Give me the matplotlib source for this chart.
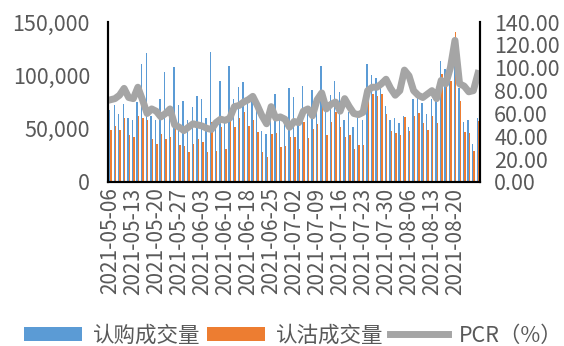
import numpy as np
import matplotlib.pyplot as plt
from matplotlib.ticker import FuncFormatter

plt.rcParams['font.family'] = ['Noto Sans CJK SC', 'DejaVu Sans']

# 认购 / 认沽 成交量（张）与 PCR（%），2021-05-06 ~ 2021-08-27 每个交易日
call_vol = [68, 72, 64, 73, 60, 58, 75, 111, 121, 62,
            58, 78, 103, 63, 108, 72, 76, 58, 70, 81,
            78, 60, 122, 55, 95, 57, 109, 78, 89, 94,
            74, 78, 70, 48, 45, 68, 83, 58, 62, 88,
            80, 60, 90, 64, 86, 75, 109, 68, 82, 95,
            84, 58, 66, 52, 60, 58, 111, 100, 98, 96,
            71, 58, 60, 55, 62, 52, 78, 86, 74, 64,
            78, 76, 114, 106, 95, 112, 88, 56, 58, 36, 60]
put_vol = [49, 53, 49, 60, 44, 42, 62, 60, 58, 40,
           36, 45, 40, 42, 54, 35, 34, 28, 36, 40,
           38, 28, 56, 29, 52, 31, 61, 52, 60, 66,
           53, 58, 47, 28, 23, 45, 46, 33, 34, 42,
           42, 31, 56, 41, 50, 54, 85, 44, 56, 66,
           52, 42, 44, 31, 35, 35, 89, 83, 81, 83,
           64, 48, 46, 44, 61, 48, 62, 65, 55, 49,
           62, 55, 101, 91, 95, 141, 76, 47, 46, 29, 57]
pcr = [72, 73, 76, 82, 74, 73, 83, 72, 60, 64,
       62, 57, 60, 64, 50, 48, 45, 48, 51, 50,
       49, 47, 46, 52, 55, 54, 56, 66, 67, 70,
       72, 75, 67, 58, 51, 66, 56, 57, 55, 48,
       53, 52, 62, 64, 58, 72, 78, 64, 68, 70,
       62, 73, 66, 60, 59, 61, 80, 83, 83, 86,
       90, 82, 76, 80, 98, 93, 80, 76, 74, 77,
       80, 73, 89, 86, 100, 124, 86, 84, 79, 80, 95]
tick_labels = ['2021-05-06', '2021-05-13', '2021-05-20', '2021-05-27',
               '2021-06-03', '2021-06-10', '2021-06-18', '2021-06-25',
               '2021-07-02', '2021-07-09', '2021-07-16', '2021-07-23',
               '2021-07-30', '2021-08-06', '2021-08-13', '2021-08-20']

x = np.arange(len(call_vol))
calls = np.array(call_vol) * 1000
puts = np.array(put_vol) * 1000

fig = plt.figure(figsize=(5.64, 3.46), dpi=100)
ax = fig.add_axes([0.1915, 0.474, 0.66, 0.462])
ax2 = ax.twinx()

w = 0.3
b1 = ax.bar(x - w / 2, calls, width=w, color='#5B9BD5', label='认购成交量')
b2 = ax.bar(x + w / 2, puts, width=w, color='#ED7D31', label='认沽成交量')
l1, = ax2.plot(x, pcr, color='#A5A5A5', lw=5, label='PCR（%）')

ax.set_xlim(-0.5, len(x) - 0.5)
ax.set_ylim(0, 150000)
ax.set_yticks([0, 50000, 100000, 150000])
ax.yaxis.set_major_formatter(FuncFormatter(lambda v, p: f'{int(v):,}'))
ax2.set_ylim(0, 140)
ax2.set_yticks(np.arange(0, 141, 20))
ax2.yaxis.set_major_formatter(FuncFormatter(lambda v, p: f'{v:.2f}'))

ax.set_xticks(x[:len(tick_labels) * 5:5])
ax.set_xticklabels(tick_labels, rotation=90)

grey = '#595959'
for a in (ax, ax2):
    a.tick_params(length=0, colors=grey, labelsize=15.5)
    a.spines['top'].set_visible(False)
    a.spines['left'].set_linewidth(1.5)
    a.spines['right'].set_linewidth(1.5)
    a.spines['bottom'].set_linewidth(1.5)
ax.tick_params(axis='x', labelsize=15, pad=4)
ax.tick_params(axis='y', pad=13)
ax2.tick_params(axis='y', pad=10)

fig.legend([b1, b2, l1], ['认购成交量', '认沽成交量', 'PCR（%）'],
           loc='center', bbox_to_anchor=(0.52, 0.03), ncol=3,
           frameon=False, fontsize=15.5, labelcolor=grey,
           handlelength=2.7, handleheight=0.6, handletextpad=0.5,
           columnspacing=0.3)

fig.savefig('out.png', dpi=100)
